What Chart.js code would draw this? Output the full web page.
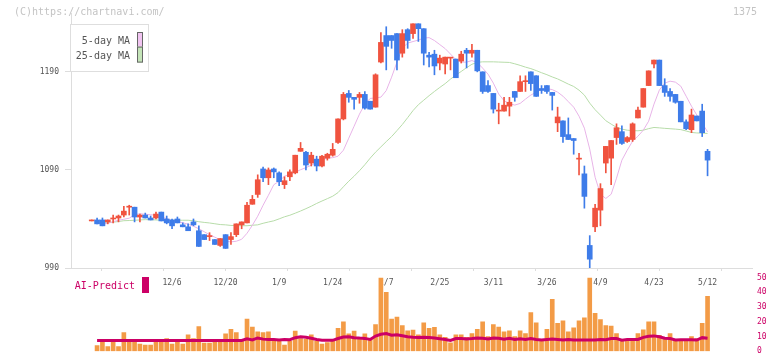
<!DOCTYPE html>
<html>
<head>
<meta charset="utf-8">
<script src="https://cdn.jsdelivr.net/npm/chart.js@4/dist/chart.umd.min.js"></script>
<style>
  body { margin: 0; background: #fff; }
  #wrap { position: relative; width: 772px; height: 361px; }
  #wrap canvas { position: absolute; left: 0; top: 0; }
</style>
</head>
<body>
<div id="wrap">
  <canvas id="price-chart" width="772" height="361"></canvas>
  <canvas id="volume-chart" width="772" height="361"></canvas>
</div>
<script>
const FONT = "'DejaVu Sans Mono', monospace";

// trading days shown on the chart
const dates = [
  '11/15','11/18','11/19','11/20','11/21','11/22','11/25','11/26','11/27','11/28','11/29',
  '12/2','12/3','12/4','12/5','12/6','12/9','12/10','12/11','12/12','12/13',
  '12/16','12/17','12/18','12/19','12/20','12/23','12/24','12/25','12/26','12/27','12/30',
  '1/6','1/7','1/8','1/9','1/10','1/14','1/15','1/16','1/17','1/20','1/21','1/22','1/23','1/24',
  '1/27','1/28','1/29','1/30','1/31',
  '2/3','2/4','2/5','2/6','2/7','2/10','2/12','2/13','2/14','2/17','2/18','2/19','2/20','2/21',
  '2/25','2/26','2/27','2/28',
  '3/3','3/4','3/5','3/6','3/7','3/10','3/11','3/12','3/13','3/14','3/17','3/18','3/19','3/21',
  '3/24','3/25','3/26','3/27','3/28','3/31',
  '4/1','4/2','4/3','4/4','4/7','4/8','4/9','4/10','4/11','4/14','4/15','4/16','4/17','4/18',
  '4/21','4/22','4/23','4/24','4/25','4/28','4/30',
  '5/1','5/2','5/7','5/8','5/9','5/12'
];
const labelDates = ['12/6','12/20','1/9','1/24','2/7','2/25','3/11','3/26','4/9','4/23','5/12'];
const priceTicks = [990, 1090, 1190];

const opens = [
  1038, 1039, 1039, 1037, 1040, 1041, 1044, 1052, 1052, 1042,
  1044, 1041, 1041, 1047, 1040, 1039, 1040, 1034, 1032, 1037,
  1028, 1024, 1022, 1019, 1013, 1024, 1019, 1024, 1034, 1036,
  1055, 1065, 1091, 1082, 1091, 1087, 1075, 1083, 1087, 1109,
  1108, 1097, 1101, 1094, 1102, 1105, 1118, 1142, 1168, 1164,
  1164, 1167, 1160, 1154, 1200, 1227, 1227, 1229, 1209, 1233,
  1229, 1239, 1234, 1207, 1208, 1199, 1198, 1204, 1203, 1201,
  1212, 1209, 1212, 1190, 1176, 1168, 1150, 1150, 1155, 1170,
  1170, 1180, 1190, 1186, 1173, 1176, 1169, 1138, 1140, 1126,
  1122, 1101, 1086, 1013, 1032, 1049, 1097, 1102, 1123, 1129,
  1119, 1121, 1143, 1154, 1176, 1198, 1202, 1176, 1170, 1167,
  1160, 1139, 1131, 1145, 1150, 1109
];
const highs = [
  1038, 1041, 1041, 1039, 1044, 1044, 1053, 1054, 1052, 1045,
  1046, 1043, 1047, 1047, 1043, 1040, 1042, 1036, 1035, 1040,
  1033, 1024, 1026, 1019, 1020, 1024, 1026, 1035, 1037, 1057,
  1064, 1085, 1093, 1092, 1092, 1088, 1083, 1090, 1105, 1118,
  1109, 1108, 1104, 1105, 1107, 1117, 1142, 1169, 1171, 1164,
  1169, 1170, 1160, 1188, 1230, 1236, 1227, 1229, 1233, 1234,
  1239, 1239, 1234, 1210, 1212, 1207, 1205, 1204, 1203, 1211,
  1214, 1218, 1212, 1190, 1181, 1168, 1158, 1164, 1164, 1170,
  1186, 1186, 1190, 1186, 1176, 1176, 1169, 1154, 1140, 1143,
  1122, 1107, 1094, 1023, 1055, 1076, 1114, 1120, 1137, 1135,
  1124, 1138, 1154, 1173, 1191, 1202, 1202, 1183, 1173, 1167,
  1160, 1141, 1152, 1145, 1157, 1111
];
const lows = [
  1038, 1035, 1033, 1035, 1036, 1037, 1042, 1044, 1037, 1037,
  1041, 1039, 1040, 1038, 1035, 1030, 1036, 1032, 1028, 1033,
  1012, 1019, 1018, 1014, 1012, 1010, 1014, 1022, 1030, 1036,
  1055, 1062, 1078, 1075, 1082, 1074, 1071, 1079, 1086, 1109,
  1090, 1094, 1089, 1093, 1100, 1104, 1117, 1141, 1159, 1152,
  1158, 1152, 1152, 1154, 1199, 1192, 1214, 1192, 1205, 1214,
  1224, 1221, 1197, 1195, 1187, 1192, 1188, 1192, 1184, 1199,
  1194, 1205, 1190, 1168, 1169, 1148, 1137, 1150, 1145, 1160,
  1170, 1170, 1171, 1165, 1168, 1168, 1151, 1129, 1118, 1121,
  1106, 1085, 1051, 989, 1027, 1033, 1087, 1075, 1116, 1116,
  1118, 1119, 1143, 1154, 1176, 1194, 1176, 1165, 1160, 1158,
  1139, 1131, 1128, 1140, 1124, 1084
];
const closes = [
  1038, 1035, 1033, 1039, 1040, 1043, 1048, 1052, 1042, 1044,
  1041, 1039, 1045, 1038, 1036, 1033, 1036, 1032, 1028, 1034,
  1012, 1019, 1022, 1014, 1020, 1010, 1022, 1035, 1037, 1054,
  1060, 1080, 1082, 1090, 1088, 1078, 1079, 1088, 1105, 1112,
  1095, 1105, 1094, 1104, 1106, 1111, 1142, 1167, 1164, 1162,
  1167, 1153, 1152, 1187, 1220, 1216, 1222, 1202, 1229, 1222,
  1239, 1234, 1209, 1205, 1196, 1204, 1205, 1204, 1184, 1208,
  1209, 1212, 1191, 1170, 1170, 1152, 1151, 1156, 1159, 1164,
  1180, 1180, 1178, 1165, 1171, 1170, 1166, 1144, 1124, 1121,
  1120, 1102, 1063, 999, 1051, 1071, 1114, 1120, 1133, 1117,
  1123, 1137, 1151, 1173, 1191, 1202, 1176, 1169, 1165, 1159,
  1139, 1132, 1146, 1140, 1128, 1100
];
const ma5 = [
  null, null, 1034.6, 1035.6, 1037.2, 1038.7, 1039.7, 1040.8, 1044.3, 1045.3,
  1044.8, 1044.3, 1043.8, 1042.3, 1040.2, 1038.2, 1037.2, 1036.2, 1034.6, 1032.6,
  1030.0, 1027.0, 1023.9, 1021.4, 1018.8, 1017.3, 1016.6, 1017.3, 1019.3, 1025.4,
  1033.6, 1042.8, 1054.0, 1064.2, 1074.9, 1078.5, 1083.6, 1085.6, 1087.7, 1090.2,
  1092.3, 1094.8, 1097.4, 1100.4, 1102.0, 1102.5, 1104.0, 1110.1, 1122.4, 1134.6,
  1146.9, 1157.1, 1162.9, 1163.4, 1164.2, 1170.9, 1184.6, 1199.9, 1214.2, 1219.3,
  1220.9, 1222.4, 1224.4, 1224.9, 1221.9, 1217.8, 1213.7, 1208.1, 1202.5, 1199.9,
  1199.9, 1201.5, 1199.4, 1193.8, 1187.7, 1178.5, 1167.3, 1160.6, 1157.6, 1156.1,
  1157.8, 1162.2, 1166.3, 1169.3, 1171.9, 1172.9, 1171.9, 1169.3, 1165.2, 1159.6,
  1154.0, 1144.8, 1132.6, 1111.2, 1082.6, 1065.2, 1060.9, 1065.2, 1081.6, 1099.9,
  1110.1, 1119.3, 1124.4, 1130.5, 1139.7, 1157.1, 1171.4, 1178.5, 1180.5, 1179.5,
  1175.4, 1165.2, 1155.0, 1145.9, 1137.7, 1128.8
];
const ma25 = [
  null, null, 1035.9, 1036.2, 1036.7, 1037.4, 1038.2, 1038.4, 1038.7, 1039.0,
  1039.3, 1039.2, 1039.0, 1038.7, 1038.7, 1038.7, 1038.7, 1038.7, 1038.7, 1038.2,
  1037.2, 1036.5, 1035.9, 1035.1, 1034.3, 1034.0, 1033.4, 1033.2, 1033.1, 1033.1,
  1033.6, 1034.0, 1035.6, 1036.9, 1038.1, 1040.1, 1042.2, 1043.8, 1045.9, 1048.1,
  1050.5, 1053.0, 1055.8, 1058.3, 1060.7, 1063.2, 1066.9, 1072.8, 1078.5, 1083.6,
  1089.2, 1095.3, 1102.0, 1108.1, 1113.5, 1118.9, 1124.0, 1130.1, 1136.3, 1143.3,
  1150.5, 1156.5, 1161.1, 1165.7, 1170.0, 1174.1, 1178.0, 1182.6, 1186.7, 1190.4,
  1194.3, 1197.7, 1199.7, 1200.2, 1200.2, 1200.2, 1200.0, 1199.8, 1199.6, 1198.2,
  1196.6, 1194.8, 1193.3, 1191.3, 1189.1, 1187.1, 1184.8, 1182.8, 1180.2, 1177.5,
  1175.1, 1171.3, 1166.3, 1158.1, 1151.4, 1145.9, 1140.2, 1136.7, 1133.4, 1131.6,
  1130.5, 1130.1, 1129.9, 1130.5, 1132.1, 1133.3, 1132.9, 1132.4, 1132.0, 1131.6,
  1131.1, 1129.7, 1128.2, 1127.7, 1127.5, 1127.2
];
const volumes = [
  null, 3.8, 6.9, 3.2, 6.9, 3.2, 12.6, 6.9, 6.9, 4.8,
  4.2, 4.2, 6.9, 6.9, 8.6, 4.8, 6.9, 4.8, 11.1, 8.6,
  16.8, 5.5, 5.5, 6.9, 6.9, 11.8, 14.9, 12.6, 6.9, 21.8,
  16.4, 13.2, 12.6, 13.2, 6.9, 8.0, 4.2, 6.9, 13.7, 8.6,
  8.0, 11.1, 6.9, 4.8, 5.9, 6.9, 15.5, 19.9, 11.8, 13.7,
  8.6, 11.8, 8.0, 18.1, 49.6, 40.0, 21.8, 23.1, 17.4, 13.9,
  14.3, 11.1, 19.3, 15.5, 16.2, 11.1, 9.5, 5.7, 11.1, 11.1,
  9.5, 12.0, 14.9, 20.0, 9.9, 18.1, 16.4, 13.2, 13.9, 9.9,
  13.9, 12.0, 26.3, 19.3, 8.0, 14.9, 35.3, 18.9, 20.6, 13.2,
  15.8, 20.6, 22.7, 49.6, 25.8, 21.4, 17.4, 17.0, 12.0, 8.0,
  8.0, 8.0, 12.0, 14.5, 20.0, 20.0, 10.7, 9.0, 12.0, 8.0,
  8.0, 8.0, 9.9, 8.6, 18.9, 37.2
];
const aiPredict = [
  null, 7.3, 7.3, 7.3, 7.3, 7.3, 7.3, 7.3, 7.3, 7.3,
  7.3, 7.3, 7.3, 7.3, 7.3, 7.3, 7.3, 7.3, 7.3, 7.3,
  7.3, 7.3, 7.3, 7.3, 7.3, 7.3, 7.3, 7.3, 7.3, 8.4,
  7.6, 9.0, 8.2, 8.0, 8.0, 7.6, 8.0, 7.8, 9.2, 9.8,
  9.5, 8.8, 7.9, 7.4, 7.4, 7.4, 8.6, 9.6, 9.8, 9.2,
  8.9, 8.7, 8.0, 10.3, 11.5, 12.0, 10.8, 11.2, 10.5, 9.8,
  9.4, 9.3, 9.5, 9.3, 9.0, 8.5, 8.0, 7.3, 8.6, 8.6,
  8.3, 8.6, 9.0, 8.8, 8.3, 9.0, 8.8, 8.2, 8.8, 8.0,
  8.4, 7.9, 8.6, 8.0, 7.6, 8.0, 8.2, 8.0, 7.6, 8.0,
  7.6, 7.6, 7.6, 7.6, 7.6, 8.0, 7.8, 8.6, 8.6, 7.5,
  8.0, 8.0, 8.0, 9.4, 10.2, 10.4, 9.8, 8.8, 8.6, 7.6,
  7.8, 7.8, 7.8, 7.6, 9.2, 8.8
];

const RED = '#f0533f';
const BLUE = '#3e7ce9';
// x range in trading-day units, same for both panels
const X_MIN = -3.87;
const X_MAX = 123.3;

const candleColors = closes.map((c, i) => (c >= opens[i] ? RED : BLUE));
const dateTicks = labelDates.map(d => dates.indexOf(d));

// header texts + boxed legends drawn on top of the chart
const chartTexts = {
  id: 'chartTexts',
  afterDraw(chart, args, o) {
    const ctx = chart.ctx;
    ctx.save();
    ctx.textBaseline = 'middle';
    (o.texts || []).forEach(t => {
      ctx.font = t.font;
      ctx.fillStyle = t.color;
      ctx.textAlign = t.align;
      ctx.fillText(t.text, t.x, t.y);
    });
    const lg = o.legend;
    if (lg) {
      if (lg.frame) {
        ctx.fillStyle = '#fff';
        ctx.fillRect(lg.x, lg.y, lg.w, lg.h);
        ctx.strokeStyle = lg.frame;
        ctx.lineWidth = 1;
        ctx.strokeRect(lg.x + 0.5, lg.y + 0.5, lg.w, lg.h);
      }
      ctx.font = lg.font;
      ctx.textAlign = 'right';
      lg.datasets.forEach((di, k) => {
        const ds = chart.data.datasets[di];
        const cy = lg.y + lg.first + k * lg.gap;
        ctx.fillStyle = lg.textColor || ds.borderColor;
        ctx.fillText(ds.label, lg.textRight, cy);
        ctx.fillStyle = lg.swatch ? lg.swatch[k] : ds.borderColor;
        ctx.fillRect(lg.boxX, cy + lg.boxTop, lg.boxW, lg.boxH);
        if (lg.boxBorder) {
          ctx.strokeStyle = lg.boxBorder;
          ctx.strokeRect(lg.boxX + 0.5, cy + lg.boxTop + 0.5, lg.boxW - 1, lg.boxH - 1);
        }
      });
    }
    ctx.restore();
  }
};

const priceChart = new Chart(document.getElementById('price-chart'), {
  type: 'bar',
  data: {
    datasets: [
      {
        label: 'body',
        data: opens.map((o, i) => ({ x: i, y: [Math.min(o, closes[i]), Math.max(o, closes[i])] })),
        backgroundColor: candleColors,
        barThickness: 5,
        minBarLength: 1,
        grouped: false,
        xAxisID: 'x',
        yAxisID: 'y',
      },
      {
        label: 'wick',
        data: lows.map((l, i) => ({ x: i, y: [l, highs[i]] })),
        backgroundColor: candleColors,
        barThickness: 1,
        minBarLength: 1,
        grouped: false,
        xAxisID: 'x',
        yAxisID: 'y',
      },
      {
        type: 'line',
        label: '5-day MA',
        data: ma5.map((v, i) => ({ x: i, y: v })),
        borderColor: '#e8b4e8',
        borderWidth: 1,
        pointRadius: 0,
        xAxisID: 'x',
        yAxisID: 'y',
      },
      {
        type: 'line',
        label: '25-day MA',
        data: ma25.map((v, i) => ({ x: i, y: v })),
        borderColor: '#b7dca9',
        borderWidth: 1,
        pointRadius: 0,
        xAxisID: 'x',
        yAxisID: 'y',
      },
    ],
  },
  options: {
    responsive: false,
    animation: false,
    devicePixelRatio: 1,
    layout: { padding: { left: 0, right: 20, top: 13, bottom: 0 } },
    scales: {
      x: {
        type: 'linear',
        position: 'bottom',
        weight: 1,
        offset: false,
        min: X_MIN,
        max: X_MAX,
        afterBuildTicks: (s) => { s.ticks = dateTicks.map(v => ({ value: v })); },
        ticks: {
          callback: (v) => dates[v],
          font: { family: FONT, size: 8 },
          color: '#555',
          padding: 10,
          maxRotation: 0,
          autoSkip: false,
        },
        grid: { display: false, drawTicks: false },
        border: { display: true, color: '#dddddd' },
        afterFit: (s) => { s.height = 93; },
      },
      xg: {
        type: 'linear',
        position: 'bottom',
        weight: 0,
        offset: false,
        min: 0,
        max: 11,
        ticks: { display: false, stepSize: 1 },
        grid: { drawOnChartArea: false, drawTicks: true, tickLength: 3, color: '#dddddd' },
        border: { display: false },
        afterFit: (s) => { s.height = 0; },
      },
      y: {
        type: 'linear',
        position: 'left',
        min: 990,
        max: 1250,
        afterBuildTicks: (s) => { s.ticks = priceTicks.map(v => ({ value: v })); },
        ticks: {
          callback: (v) => String(v),
          font: { family: FONT, size: 8 },
          color: '#555',
          padding: 6,
        },
        grid: { drawOnChartArea: false, tickLength: 6, color: '#dddddd' },
        border: { color: '#dddddd' },
        afterFit: (s) => { s.width = 71; },
      },
    },
    plugins: {
      legend: { display: false },
      tooltip: { enabled: false },
      chartTexts: {
        texts: [
          { text: '(C)https://chartnavi.com/', x: 14, y: 12.5, align: 'left', color: '#c4c4c4', font: '10px ' + FONT },
          { text: '1375', x: 757, y: 12.5, align: 'right', color: '#c4c4c4', font: '10px ' + FONT },
        ],
        legend: {
          datasets: [2, 3],
          x: 70, y: 24, w: 78, h: 47,
          frame: '#dedede',
          font: '10px ' + FONT,
          textColor: '#555',
          textRight: 130,
          first: 17.5, gap: 14.6,
          swatch: ['#f1c4f1', '#c4e4b8'],
          boxX: 137, boxW: 6, boxTop: -9.5, boxH: 16,
          boxBorder: '#666',
        },
      },
    },
  },
  plugins: [chartTexts],
});

const volumeChart = new Chart(document.getElementById('volume-chart'), {
  type: 'bar',
  data: {
    datasets: [
      {
        type: 'line',
        label: 'AI-Predict',
        data: aiPredict.map((v, i) => ({ x: i, y: v })),
        borderColor: '#cc0066',
        borderWidth: 3,
        pointRadius: 0,
      },
      {
        label: 'Volume',
        data: volumes.map((v, i) => ({ x: i, y: v })),
        backgroundColor: '#f39b46',
        barThickness: 4,
        grouped: false,
      },
    ],
  },
  options: {
    responsive: false,
    animation: false,
    devicePixelRatio: 1,
    layout: { padding: { left: 71, right: 0, top: 268, bottom: 3.3 } },
    scales: {
      x: {
        type: 'linear',
        display: false,
        offset: false,
        min: X_MIN,
        max: X_MAX,
      },
      y: {
        type: 'linear',
        position: 'right',
        min: 0,
        max: 56.5,
        ticks: {
          stepSize: 10,
          includeBounds: false,
          font: { family: FONT, size: 8 },
          color: '#cc0066',
          padding: 5,
        },
        grid: { display: false, drawTicks: false },
        border: { display: false },
        afterFit: (s) => { s.width = 20; },
      },
    },
    plugins: {
      legend: { display: false },
      tooltip: { enabled: false },
      chartTexts: {
        legend: {
          datasets: [0],
          x: 0, y: 268,
          font: '10px ' + FONT,
          textRight: 135,
          first: 18, gap: 0,
          boxX: 142, boxW: 7, boxTop: -9, boxH: 16,
        },
      },
    },
  },
  plugins: [chartTexts],
});
</script>
</body>
</html>
